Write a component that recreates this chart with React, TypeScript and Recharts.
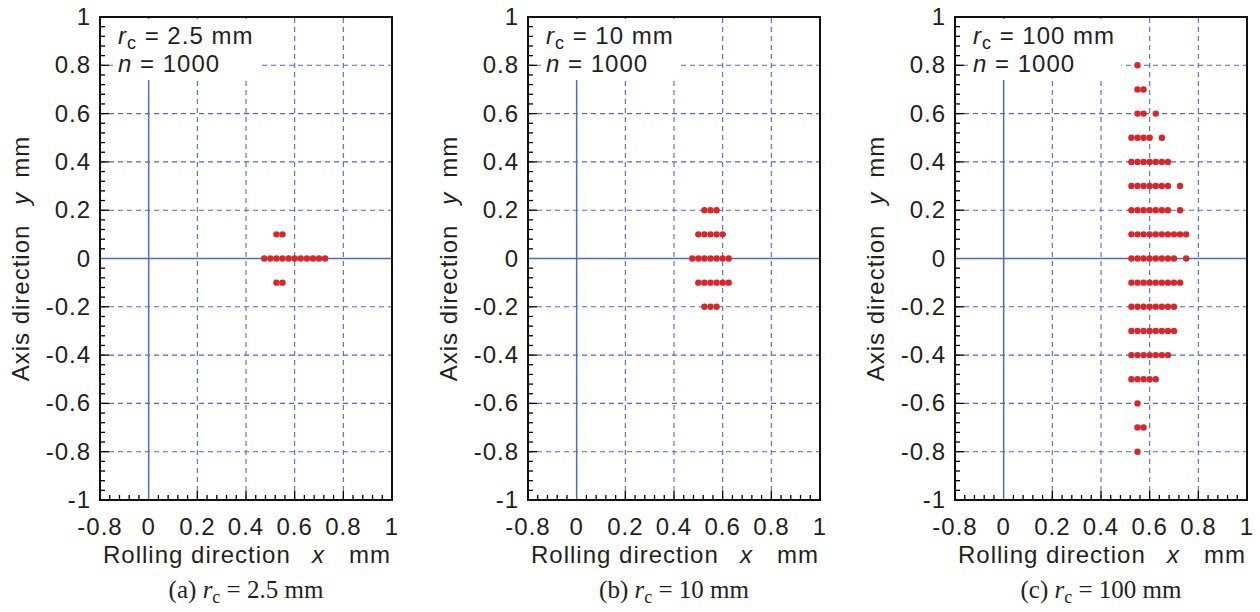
import React from "react";
import {
  ReferenceLine,
  Scatter,
  ScatterChart,
  XAxis,
  YAxis,
} from "recharts";

// dot rows: each y level with the x positions of its dots
type Row = { y: number; xs: number[] };

const rowsA: Row[] = [
  { y: 0.1, xs: [0.525, 0.55] },
  { y: 0, xs: [0.475, 0.5, 0.525, 0.55, 0.575, 0.6, 0.625, 0.65, 0.675, 0.7, 0.725] },
  { y: -0.1, xs: [0.525, 0.55] },
];

const rowsB: Row[] = [
  { y: 0.2, xs: [0.525, 0.55, 0.575] },
  { y: 0.1, xs: [0.5, 0.525, 0.55, 0.575, 0.6] },
  { y: 0, xs: [0.475, 0.5, 0.525, 0.55, 0.575, 0.6, 0.625] },
  { y: -0.1, xs: [0.5, 0.525, 0.55, 0.575, 0.6, 0.625] },
  { y: -0.2, xs: [0.525, 0.55, 0.575] },
];

const rowsC: Row[] = [
  { y: 0.8, xs: [0.55] },
  { y: 0.7, xs: [0.55, 0.575] },
  { y: 0.6, xs: [0.55, 0.575, 0.625] },
  { y: 0.5, xs: [0.525, 0.55, 0.575, 0.6, 0.65] },
  { y: 0.4, xs: [0.525, 0.55, 0.575, 0.6, 0.625, 0.65, 0.675] },
  { y: 0.3, xs: [0.525, 0.55, 0.575, 0.6, 0.625, 0.65, 0.675, 0.725] },
  { y: 0.2, xs: [0.525, 0.55, 0.575, 0.6, 0.625, 0.65, 0.675, 0.725] },
  { y: 0.1, xs: [0.525, 0.55, 0.575, 0.6, 0.625, 0.65, 0.675, 0.7, 0.725, 0.75] },
  { y: 0, xs: [0.525, 0.55, 0.575, 0.6, 0.625, 0.65, 0.675, 0.7, 0.75] },
  { y: -0.1, xs: [0.525, 0.55, 0.575, 0.6, 0.625, 0.65, 0.675, 0.7, 0.725] },
  { y: -0.2, xs: [0.525, 0.55, 0.575, 0.6, 0.625, 0.65, 0.675, 0.7] },
  { y: -0.3, xs: [0.525, 0.55, 0.575, 0.6, 0.625, 0.65, 0.675, 0.7] },
  { y: -0.4, xs: [0.525, 0.55, 0.575, 0.6, 0.625, 0.65, 0.675] },
  { y: -0.5, xs: [0.525, 0.55, 0.575, 0.6, 0.625] },
  { y: -0.6, xs: [0.55] },
  { y: -0.7, xs: [0.55, 0.575] },
  { y: -0.8, xs: [0.55] },
];

// axis ticks (the figure labels its left-most x tick "-0.8")
const xMajorTicks = [-0.2, 0, 0.2, 0.4, 0.6, 0.8, 1];
const xMajorLabels = ["-0.8", "0", "0.2", "0.4", "0.6", "0.8", "1"];
const yMajorTicks = [-1, -0.8, -0.6, -0.4, -0.2, 0, 0.2, 0.4, 0.6, 0.8, 1];
const yMajorLabels = ["-1", "-0.8", "-0.6", "-0.4", "-0.2", "0", "0.2", "0.4", "0.6", "0.8", "1"];
const gridX = [0.2, 0.4, 0.6, 0.8];
const gridY = [-0.8, -0.6, -0.4, -0.2, 0.2, 0.4, 0.6, 0.8];

const MINOR = 0.04;
const stepTicks = (from: number, to: number) => {
  const out: number[] = [];
  const n = Math.round((to - from) / MINOR);
  for (let i = 0; i <= n; i++) out.push(Number((from + i * MINOR).toFixed(2)));
  return out;
};
const xTicks = stepTicks(-0.2, 1);
const yTicks = stepTicks(-1, 1);

const FONT = '"Liberation Sans", Arial, Helvetica, sans-serif';
const SERIF = '"Liberation Serif", "Times New Roman", serif';
const TXT = "#231f20";
const BLUE = "#4f6bc4";
const RED = "#d9262c";

const CHART_W = 400;
const CHART_H = 570;
const PLOT_LEFT = 100;
const PLOT_TOP = 17;
const PLOT_W = 292;
const PLOT_H = 483;

const labelFor = (v: number, majors: number[], labels: string[]) => {
  const i = majors.findIndex((m) => Math.abs(m - v) < 1e-6);
  return i >= 0 ? labels[i] : null;
};

const XTick = (props: any) => {
  const { x, y, payload } = props;
  const v = payload.value as number;
  const label = labelFor(v, xMajorTicks, xMajorLabels);
  const len = label ? 9 : 5;
  return (
    <g>
      {Math.abs(v) > 1e-6 && (
        <line x1={x} y1={y} x2={x} y2={y - len} stroke="#000" strokeWidth={1.3} />
      )}
      {label && (
        <text
          x={x}
          y={y + 35}
          textAnchor="middle"
          fontFamily={FONT}
          fontSize={24}
          letterSpacing={1}
          fill={TXT}
        >
          {label}
        </text>
      )}
    </g>
  );
};

const YTick = (props: any) => {
  const { x, y, payload } = props;
  const v = payload.value as number;
  const label = labelFor(v, yMajorTicks, yMajorLabels);
  const len = label ? 9 : 5;
  return (
    <g>
      {Math.abs(v) > 1e-6 && (
        <line x1={x} y1={y} x2={x + len} y2={y} stroke="#000" strokeWidth={1.3} />
      )}
      {label && (
        <text
          x={x - 9}
          y={y + 8}
          textAnchor="end"
          fontFamily={FONT}
          fontSize={24}
          letterSpacing={1}
          fill={TXT}
        >
          {label}
        </text>
      )}
    </g>
  );
};

const XTitle = () => (
  <text
    x={PLOT_LEFT + 3}
    y={PLOT_TOP + PLOT_H + 63}
    fontFamily={FONT}
    fontSize={24}
    letterSpacing={1}
    fill={TXT}
  >
    <tspan>Rolling direction</tspan>
    <tspan x={PLOT_LEFT + 212} fontStyle="italic">x</tspan>
    <tspan x={PLOT_LEFT + 249}>mm</tspan>
  </text>
);

const YTitle = () => {
  const cx = 29;
  const cy = PLOT_TOP + PLOT_H / 2;
  return (
    <text
      x={cx}
      y={cy}
      transform={`rotate(-90 ${cx} ${cy})`}
      textAnchor="middle"
      fontFamily={FONT}
      fontSize={24}
      letterSpacing={1}
      fill={TXT}
    >
      <tspan>Axis direction</tspan>
      <tspan dx={20} fontStyle="italic">y</tspan>
      <tspan dx={14}>mm</tspan>
    </text>
  );
};

const Dot = (props: any) => (
  <circle cx={props.cx} cy={props.cy} r={3.2} fill={RED} />
);

const toPoints = (rows: Row[]) =>
  rows.flatMap((r) => r.xs.map((x) => ({ x, y: r.y })));

interface PanelProps {
  left: number;
  rows: Row[];
  rc: string;
  tag: string;
}

const Panel: React.FC<PanelProps> = ({ left, rows, rc, tag }) => {
  const data = toPoints(rows);
  return (
    <>
      <div style={{ position: "absolute", left, top: 0 }}>
        <ScatterChart
          width={CHART_W}
          height={CHART_H}
          margin={{ top: PLOT_TOP, right: CHART_W - PLOT_LEFT - PLOT_W, bottom: 0, left: 0 }}
        >
          <XAxis
            type="number"
            dataKey="x"
            domain={[-0.2, 1]}
            ticks={xTicks}
            interval={0}
            tickSize={0}
            tickMargin={0}
            axisLine={false}
            tickLine={false}
            tick={XTick}
            height={CHART_H - PLOT_TOP - PLOT_H}
            allowDataOverflow
            label={XTitle}
          />
          <YAxis
            type="number"
            dataKey="y"
            domain={[-1, 1]}
            ticks={yTicks}
            interval={0}
            tickSize={0}
            tickMargin={0}
            axisLine={false}
            tickLine={false}
            tick={YTick}
            width={PLOT_LEFT}
            allowDataOverflow
            label={YTitle}
          />
          {gridX.map((v) => (
            <ReferenceLine key={"gx" + v} x={v} stroke={BLUE} strokeWidth={1.1} strokeDasharray="5 4" />
          ))}
          {gridY.map((v) => (
            <ReferenceLine key={"gy" + v} y={v} stroke={BLUE} strokeWidth={1.1} strokeDasharray="5 4" />
          ))}
          <ReferenceLine x={0} stroke={BLUE} strokeWidth={1.5} />
          <ReferenceLine y={0} stroke={BLUE} strokeWidth={1.5} />
          <Scatter data={data} shape={Dot} isAnimationActive={false} />
        </ScatterChart>
      </div>
      {/* plot frame */}
      <div
        style={{
          position: "absolute",
          left: left + PLOT_LEFT - 1,
          top: PLOT_TOP - 1,
          width: PLOT_W - 2,
          height: PLOT_H - 2,
          border: "2px solid #111",
          pointerEvents: "none",
        }}
      />
      <div
        style={{
          position: "absolute",
          left: left + PLOT_LEFT + 13,
          top: PLOT_TOP + 2,
          background: "#fff",
          padding: "4px 6px 3px 5px",
          fontFamily: FONT,
          fontSize: 24,
          letterSpacing: 1,
          lineHeight: "26px",
          color: TXT,
          whiteSpace: "nowrap",
        }}
      >
        <div>
          <i>r</i>
          <span style={{ fontSize: 18, position: "relative", top: 5 }}>c</span> = {rc} mm
        </div>
        <div>
          <i>n</i> = 1000
        </div>
      </div>
      <div
        style={{
          position: "absolute",
          left: left + PLOT_LEFT,
          width: PLOT_W,
          top: 576,
          textAlign: "center",
          fontFamily: SERIF,
          fontSize: 25,
          lineHeight: "28px",
          color: TXT,
          whiteSpace: "nowrap",
        }}
      >
        ({tag}) <i>r</i>
        <span style={{ fontSize: 18, position: "relative", top: 5 }}>c</span> = {rc} mm
      </div>
    </>
  );
};

export default function App() {
  return (
    <div
      style={{
        position: "absolute",
        left: 0,
        top: 0,
        width: 1260,
        height: 612,
        background: "#fff",
        overflow: "hidden",
      }}
    >
      <Panel left={0} rows={rowsA} rc="2.5" tag="a" />
      <Panel left={428} rows={rowsB} rc="10" tag="b" />
      <Panel left={855} rows={rowsC} rc="100" tag="c" />
    </div>
  );
}
